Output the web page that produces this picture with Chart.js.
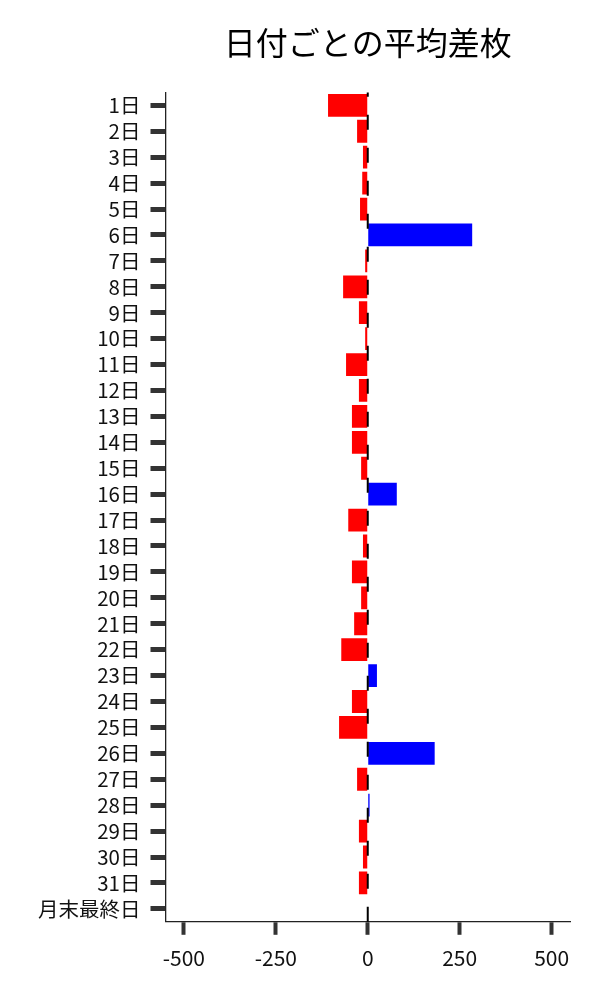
<!DOCTYPE html>
<html>
<head>
<meta charset="utf-8">
<script src="https://cdn.jsdelivr.net/npm/chart.js@4/dist/chart.umd.min.js"></script>
<style>
  html, body { margin: 0; padding: 0; background: #fff; }
  #wrap { width: 600px; height: 1000px; }
</style>
</head>
<body>
<div id="wrap"><canvas id="my_chart" width="600" height="1000"></canvas></div>
<script>
// days of month
var day_labels = ["1日","2日","3日","4日","5日","6日","7日","8日","9日","10日",
  "11日","12日","13日","14日","15日","16日","17日","18日","19日","20日",
  "21日","22日","23日","24日","25日","26日","27日","28日","29日","30日","31日","月末最終日"]

// average difference per day
var avg_diff = [-108, -29, -13, -15, -21, 284, -7, -67, -24, -7,
  -59, -24, -43, -43, -18, 79, -53, -13, -43, -18,
  -37, -72, 25, -43, -78, 182, -29, 5, -24, -13, -24, null]

var x_ticks = [-500, -250, 0, 250, 500]

var font_family = "'Noto Sans CJK JP', 'Noto Sans', sans-serif"

var bar_colors = avg_diff.map(v => (v !== null && v < 0) ? "#ff0000" : "#0000ff")

// dashed zero line, drawn from the bottom up like the original
var zeroLine = {
  id: "zeroLine",
  afterDatasetsDraw(chart) {
    var ctx = chart.ctx
    var area = chart.chartArea
    var x = chart.scales.x.getPixelForValue(0)
    ctx.save()
    ctx.strokeStyle = "#000"
    ctx.lineWidth = 2
    ctx.setLineDash([15, 18])
    ctx.beginPath()
    ctx.moveTo(x, area.bottom)
    ctx.lineTo(x, area.top)
    ctx.stroke()
    ctx.restore()
  }
}

var ctx = document.getElementById("my_chart")
var my_chart = new Chart(ctx, {
  type: "bar",
  data: {
    labels: day_labels,
    datasets: [{
      label: "平均差枚",
      data: avg_diff,
      backgroundColor: bar_colors,
      borderWidth: 0,
      categoryPercentage: 1.0,
      barPercentage: 0.88
    }]
  },
  options: {
    indexAxis: "y",
    responsive: false,
    animation: false,
    layout: { padding: { left: 28, right: 30, top: 19, bottom: 18 } },
    plugins: {
      legend: { display: false },
      tooltip: { enabled: false },
      title: {
        display: true,
        text: "日付ごとの平均差枚",
        fullSize: false,
        color: "#000",
        font: { family: font_family, size: 32, weight: "normal" },
        padding: { top: 5, bottom: 30 }
      }
    },
    scales: {
      x: {
        min: -550,
        max: 550,
        afterBuildTicks: axis => { axis.ticks = x_ticks.map(v => ({ value: v })) },
        grid: { drawOnChartArea: false, tickLength: 13, tickWidth: 4, tickColor: "#333" },
        border: { color: "#222", width: 1.3 },
        ticks: { color: "#111", padding: 11, font: { family: font_family, size: 21 } }
      },
      y: {
        grid: { offset: false, drawOnChartArea: false, tickLength: 15, tickWidth: 5, tickColor: "#333" },
        border: { color: "#222", width: 1.3 },
        ticks: { color: "#111", padding: 10, autoSkip: false, font: { family: font_family, size: 20.5 } }
      }
    }
  },
  plugins: [zeroLine]
})
</script>
</body>
</html>
